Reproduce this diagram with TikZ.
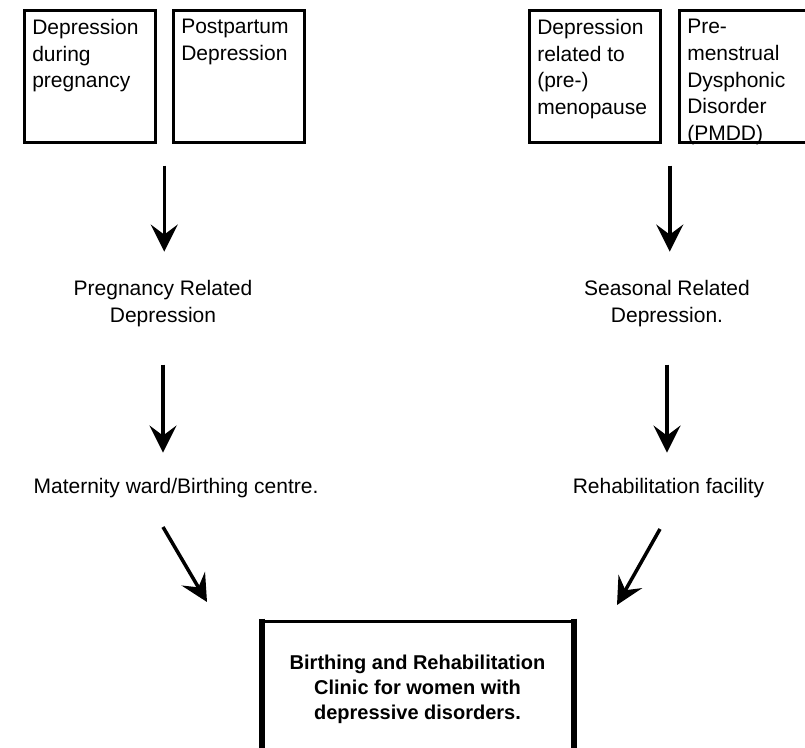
\documentclass[tikz,border=0pt]{standalone}
\usepackage{fontspec}
\setmainfont{Liberation Sans}
\usetikzlibrary{arrows.meta,calc}
\tikzstyle{cause}=[draw,line width=2.5pt,anchor=north west,inner xsep=8pt,inner ysep=9pt,minimum width=131pt,minimum height=132pt,font=\fontsize{21}{26.7}\selectfont]
\tikzstyle{stage}=[align=center,inner sep=0pt,anchor=base,font=\fontsize{21}{27}\selectfont]
\tikzstyle{clinic}=[draw,line width=3pt,align=center,anchor=north,inner ysep=33pt,minimum width=309pt,font=\bfseries\fontsize{20}{25}\selectfont]
\tikzstyle{flow}=[-{Stealth[length=27pt,width=27pt,inset=10pt]},line width=3.5pt]
\newcommand{\boxtext}[1]{\parbox[t][114pt][t]{115pt}{\raggedright #1}}

\begin{document}
\begin{tikzpicture}[x=1pt,y=-1pt]
  \useasboundingbox (0,0) rectangle (805,747);

  \node[cause] (during) at (23,9) {\boxtext{Depression\\during\\pregnancy}};
  \node[cause] (postpartum) at (172,9) {\boxtext{Postpartum\\Depression}};
  \node[cause] (menopause) at (528,9) {\boxtext{Depression\\related to\\(pre-)\\menopause}};
  \node[cause] (pmdd) at (678,9) {\boxtext{Pre-\\menstrual\\Dysphonic\\Disorder\\(PMDD)}};

  % base of a two-line node is its last line
  \node[stage] (pregnancy) at (163,322) {Pregnancy Related\\Depression};
  \node[stage] (seasonal) at (667,322) {Seasonal Related\\Depression.};
  \node[stage] (maternity) at (176,493) {Maternity ward/Birthing centre.};
  \node[stage] (rehab) at (668.5,493) {Rehabilitation facility};

  \node[clinic] (clinic) at (417.5,620) {Birthing and Rehabilitation\\Clinic for women with\\depressive disorders.};
  \draw[line width=6pt] ([yshift=1.5pt]clinic.north west) -- (clinic.south west);
  \draw[line width=6pt] ([yshift=1.5pt]clinic.north east) -- (clinic.south east);

  \coordinate (leftpair) at ($(during.south)!.5!(postpartum.south)$);
  \coordinate (rightpair) at ($(menopause.south)!.5!(pmdd.south)$);
  \coordinate (maternity out) at (163,527);
  \coordinate (clinic left) at (207,602);
  \coordinate (rehab out) at (660,529);
  \coordinate (clinic right) at (617,605);

  \draw[flow,shorten <=22pt,shorten >=28pt] (leftpair) -- (leftpair |- pregnancy.north);
  \draw[flow,shorten <=22pt,shorten >=28pt] (rightpair) -- (rightpair |- seasonal.north);
  \draw[flow,shorten <=38pt,shorten >=25pt] (pregnancy.south) -- (pregnancy.south |- maternity.north);
  \draw[flow,shorten <=38pt,shorten >=25pt] (seasonal.south) -- (seasonal.south |- rehab.north);
  \draw[flow] (maternity out) -- (clinic left);
  \draw[flow] (rehab out) -- (clinic right);
\end{tikzpicture}
\end{document}
